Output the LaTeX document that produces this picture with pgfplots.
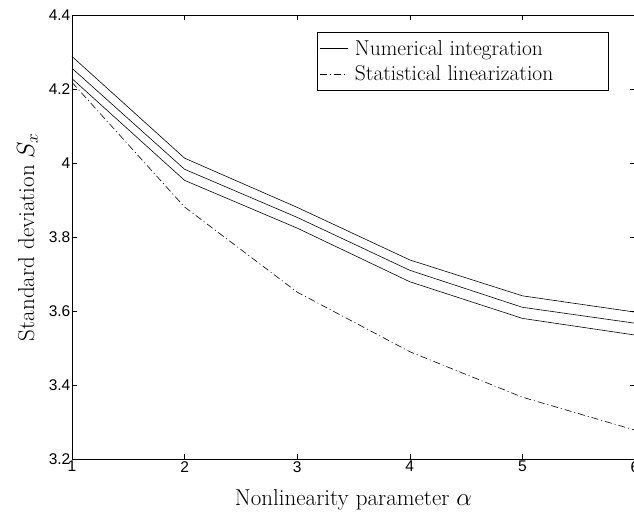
\documentclass[border=0pt]{standalone}
\usepackage{pgfplots}
\pgfplotsset{compat=1.18}
\usepackage{fontspec}
\newfontfamily\hv{Liberation Sans}
\begin{document}
\begin{tikzpicture}
\begin{axis}[
  scale only axis,
  width=563pt, height=444pt,
  xmin=1, xmax=6, ymin=3.2, ymax=4.4,
  xtick={1,2,3,4,5,6},
  ytick={3.2,3.4,3.6,3.8,4.0,4.2,4.4},
  tick align=inside,
  major tick length=5pt,
  axis line style={line width=0.8pt},
  every tick/.style={line width=0.6pt, black},
  /pgf/number format/assume math mode=true,
  ticklabel style={font=\hv\fontsize{15.5}{16}\selectfont},
  yticklabel style={inner sep=1.5pt},
  xticklabel style={inner sep=2pt},
  xlabel={Nonlinearity parameter $\alpha$},
  ylabel={Standard deviation $S_x$},
  label style={font=\fontsize{23}{25}\selectfont},
  xlabel style={at={(axis description cs:0.5,-0.092)}, anchor=center},
  ylabel style={at={(axis description cs:-0.079,0.5)}, anchor=center, rotate=0},
  legend style={at={(axis description cs:0.435,0.962)}, anchor=north west,
    font=\fontsize{21.5}{23}\selectfont, draw=black, line width=0.8pt,
    inner xsep=2pt, inner ysep=6pt, row sep=5pt, cells={anchor=west}},
  legend image code/.code={\draw[#1] (0pt,0pt) -- (28pt,0pt);},
]
\addplot[black, line width=0.6pt] coordinates {
  (1,4.288) (2,4.013) (3,3.880) (4,3.738) (5,3.641) (6,3.597)};
\addlegendentry{\makebox[254pt][l]{\hspace{5pt}Numerical integration}}
\addplot[black, line width=0.6pt, dash pattern=on 7pt off 3pt on 1pt off 3pt] coordinates {
  (1,4.218) (2,3.881) (3,3.651) (4,3.490) (5,3.367) (6,3.278)};
\addlegendentry{\makebox[254pt][l]{\hspace{5pt}Statistical linearization}}
\addplot[black, line width=0.6pt, forget plot] coordinates {
  (1,4.256) (2,3.983) (3,3.853) (4,3.710) (5,3.610) (6,3.567)};
\addplot[black, line width=0.6pt, forget plot] coordinates {
  (1,4.228) (2,3.953) (3,3.824) (4,3.679) (5,3.580) (6,3.535)};
\end{axis}
\pgfresetboundingbox
\useasboundingbox ([shift={(-72pt,-59pt)}]current axis.south west) rectangle ([shift={(562pt,459pt)}]current axis.south west);
\end{tikzpicture}
\end{document}
